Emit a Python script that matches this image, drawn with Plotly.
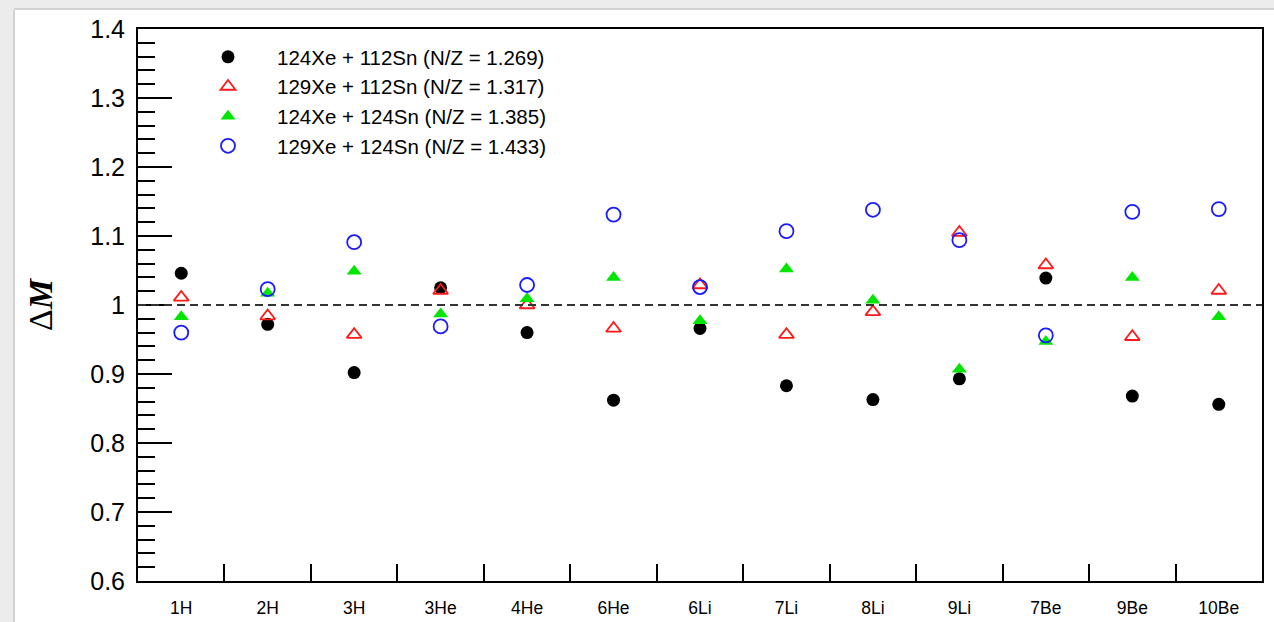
import plotly.graph_objects as go

# ---- data ----
categories = ["1H", "2H", "3H", "3He", "4He", "6He", "6Li", "7Li", "8Li", "9Li", "7Be", "9Be", "10Be"]

xe124_sn112 = [1.046, 0.972, 0.902, 1.025, 0.960, 0.862, 0.966, 0.883, 0.863, 0.893, 1.039, 0.868, 0.856]
xe129_sn112 = [1.011, 0.984, 0.957, 1.021, 1.000, 0.966, 1.029, 0.957, 0.990, 1.105, 1.058, 0.954, 1.021]
xe124_sn124 = [0.983, 1.017, 1.049, 0.987, 1.009, 1.040, 0.977, 1.052, 1.007, 0.907, 0.947, 1.040, 0.983]
xe129_sn124 = [0.960, 1.023, 1.091, 0.969, 1.029, 1.131, 1.026, 1.107, 1.138, 1.094, 0.956, 1.135, 1.139]

series_names = [
    "124Xe + 112Sn (N/Z = 1.269)",
    "129Xe + 112Sn (N/Z = 1.317)",
    "124Xe + 124Sn (N/Z = 1.385)",
    "129Xe + 124Sn (N/Z = 1.433)",
]
reference_level = 1.0
y_range = [0.6, 1.4]

# ---- layout geometry ----
W, H = 1274, 622
ML, MR, MT, MB = 138, 12, 29, 41
PW, PH = W - ML - MR, H - MT - MB


def px_x(px):
    return (px - ML) / PW


def px_y(py):
    return (H - MB - py) / PH


FONT = "Liberation Sans, Arial, Helvetica, sans-serif"

fig = go.Figure()

fig.add_trace(go.Scatter(
    x=categories, y=xe124_sn112, mode="markers", name=series_names[0],
    marker=dict(symbol="circle", size=13, color="black", line=dict(width=0)),
    legendgroup="a"))
fig.add_trace(go.Scatter(
    x=categories, y=xe129_sn112, mode="markers", name=series_names[1],
    marker=dict(symbol="triangle-up-open", size=13, color="#ff1a1a", line=dict(width=1.8, color="#ff1a1a")),
    legendgroup="b"))
fig.add_trace(go.Scatter(
    x=categories, y=xe124_sn124, mode="markers", name=series_names[2],
    marker=dict(symbol="triangle-up", size=13, color="#00e600", line=dict(width=0)),
    legendgroup="c"))
fig.add_trace(go.Scatter(
    x=categories, y=xe129_sn124, mode="markers", name=series_names[3],
    marker=dict(symbol="circle-open", size=14, color="#1a1aff", line=dict(width=1.8, color="#1a1aff")),
    legendgroup="d"))

shapes = [
    # white canvas over grey frame band
    dict(type="rect", xref="paper", yref="paper", layer="below",
         x0=px_x(15), x1=px_x(W + 5), y0=px_y(10), y1=px_y(H + 5),
         fillcolor="white", line=dict(width=0)),
    dict(type="line", xref="paper", yref="paper", layer="below",
         x0=px_x(14), x1=px_x(14), y0=px_y(10), y1=px_y(H + 5),
         line=dict(color="#d2d2d2", width=2)),
    dict(type="line", xref="paper", yref="paper", layer="below",
         x0=px_x(14), x1=px_x(W + 5), y0=px_y(9), y1=px_y(9),
         line=dict(color="#d2d2d2", width=2)),
    # reference dashed line
    dict(type="line", xref="paper", yref="y", x0=0, x1=1,
         y0=reference_level, y1=reference_level,
         line=dict(color="#333333", width=2.2, dash="8px,5px")),
]

fig.update_layout(
    width=W, height=H, autosize=False,
    margin=dict(l=ML, r=MR, t=MT, b=MB, pad=0, autoexpand=False),
    paper_bgcolor="#ececec", plot_bgcolor="rgba(0,0,0,0)",
    font=dict(family=FONT, color="black"),
    showlegend=True,
    legend=dict(
        x=px_x(179), y=px_y(37), xanchor="left", yanchor="top",
        bgcolor="rgba(0,0,0,0)", borderwidth=0,
        font=dict(family=FONT, size=20.5, color="black"),
        traceorder="grouped", tracegroupgap=0, itemwidth=88,
    ),
    shapes=shapes,
    xaxis=dict(
        type="category", range=[-0.5, len(categories) - 0.5],
        tickson="boundaries", ticks="inside", ticklen=17, tickwidth=2, tickcolor="black",
        showline=True, linewidth=2, linecolor="black", mirror=True,
        showgrid=False, zeroline=False, automargin=False,
        tickfont=dict(family=FONT, size=17.5, color="black"),
        ticklabelstandoff=10,
    ),
    yaxis=dict(
        range=y_range, dtick=0.1, tick0=0.6,
        ticks="inside", ticklen=34, tickwidth=2, tickcolor="black",
        minor=dict(dtick=0.02, ticks="inside", ticklen=17, tickwidth=2, tickcolor="black", showgrid=False),
        showline=True, linewidth=2, linecolor="black", mirror=True,
        showgrid=False, zeroline=False, automargin=False,
        tickfont=dict(family=FONT, size=25, color="black"),
        ticklabelstandoff=6,
        title=dict(text="Δ<b><i>M</i></b>",
                   font=dict(family="Liberation Serif, Times New Roman, serif", size=34, color="black"),
                   standoff=27),
    ),
)

fig.write_html("out.html")
